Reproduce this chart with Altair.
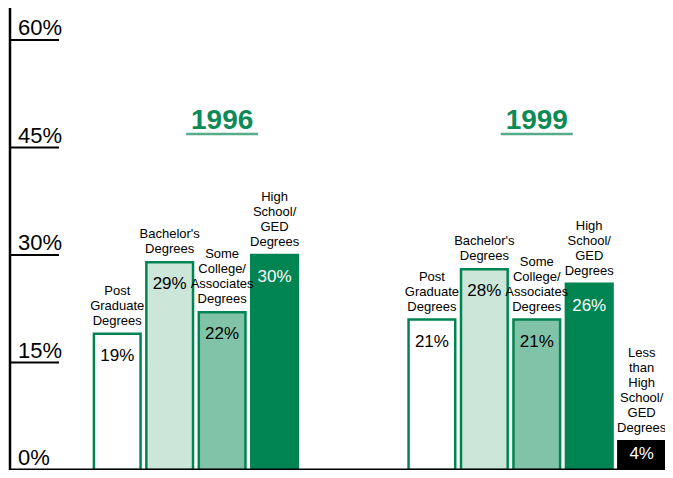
import altair as alt
import pandas as pd

# ---- data ----
years_1996 = "1996"
years_1999 = "1999"
labels_1996 = [
    "Post\nGraduate\nDegrees",
    "Bachelor's\nDegrees",
    "Some\nCollege/\nAssociates\nDegrees",
    "High\nSchool/\nGED\nDegrees",
]
labels_1999 = [
    "Post\nGraduate\nDegrees",
    "Bachelor's\nDegrees",
    "Some\nCollege/\nAssociates\nDegrees",
    "High\nSchool/\nGED\nDegrees",
    "Less\nthan\nHigh\nSchool/\nGED\nDegrees",
]
kinds = ["post", "bach", "some", "hs", "less"]
values_1996 = [19, 29, 22, 30]
values_1999 = [21, 28, 21, 26, 4]
y_ticks = [0, 15, 30, 45, 60]

# ---- styling ----
GREEN = "#008552"
TITLE_GREEN = "#0E8A57"
fills = ["#FFFFFF", "#CCE6DA", "#80C3A8", GREEN, "#000000"]
strokes = [GREEN, GREEN, GREEN, GREEN, "#000000"]
text_colors = ["#000000", "#000000", "#000000", "#FFFFFF", "#FFFFFF"]
FONT = "Liberation Sans, Arial, sans-serif"
LINE_H = 15

rows = []
line_rows = []
for year, labels, values in [(years_1996, labels_1996, values_1996),
                             (years_1999, labels_1999, values_1999)]:
    for i, (lab, v) in enumerate(zip(labels, values)):
        slot = f"{year}-{i}"
        rows.append({"slot": slot, "value": v, "pct": f"{v}%", "kind": kinds[i]})
        lines = lab.split("\n")
        for k, line in enumerate(reversed(lines)):
            line_rows.append({"slot": slot, "value": v, "line": line, "k": k})
df = pd.DataFrame(rows)
lines_df = pd.DataFrame(line_rows)

slots = ([f"{years_1996}-{i}" for i in range(len(values_1996))]
         + ["gap-a", "gap-b"]
         + [f"{years_1999}-{i}" for i in range(len(values_1999))])

W, H = 655, 430
x_scale = alt.Scale(domain=slots, paddingInner=0.11, paddingOuter=0.8, align=1)
y_scale = alt.Scale(domain=[0, 60], nice=False, zero=True)
X = alt.X("slot:N", scale=x_scale, axis=None)
Y = alt.Y("value:Q", scale=y_scale, axis=None)
TEXT_COLOR = alt.Color("kind:N", scale=alt.Scale(domain=kinds, range=text_colors), legend=None)

base = alt.Chart(df)

bars = base.mark_bar(strokeWidth=2.5).encode(
    x=X,
    y=Y,
    fill=alt.Fill("kind:N", scale=alt.Scale(domain=kinds, range=fills), legend=None),
    stroke=alt.Stroke("kind:N", scale=alt.Scale(domain=kinds, range=strokes), legend=None),
)

# category labels: one layer per line (k = 0 is the bottom line)
max_lines = int(lines_df["k"].max()) + 1
cat_layers = []
for K in range(max_lines):
    cat_layers.append(
        alt.Chart(lines_df).transform_filter(f"datum.k == {K}").mark_text(
            baseline="alphabetic", align="center", dy=-9 - LINE_H * K,
            fontSize=13, font=FONT, color="#000000",
        ).encode(x=X, y=Y, text="line:N")
    )

val_text = base.transform_filter("datum.kind != 'less'").mark_text(
    baseline="middle", align="center", dy=22, fontSize=17, font=FONT,
).encode(x=X, y=Y, text="pct:N", color=TEXT_COLOR)

val_text_short = base.transform_filter("datum.kind == 'less'").mark_text(
    baseline="middle", align="center", dy=13, fontSize=17, font=FONT,
).encode(x=X, y=Y, text="pct:N", color=TEXT_COLOR)

tick_df = pd.DataFrame({"t": y_ticks, "lab": [f"{t}%" for t in y_ticks]})
tick_rules = alt.Chart(tick_df).transform_filter("datum.t > 0").mark_rule(
    color="#000000", strokeWidth=2
).encode(
    y=alt.Y("t:Q", scale=y_scale, axis=None),
    x=alt.value(0),
    x2=alt.value(49),
)
tick_labels = alt.Chart(tick_df).mark_text(
    align="left", baseline="alphabetic", dy=-5, fontSize=22, font=FONT, color="#000000"
).encode(
    y=alt.Y("t:Q", scale=y_scale, axis=None),
    x=alt.value(8),
    text="lab:N",
)

axis_df = pd.DataFrame({"a": [0]})
left_axis = alt.Chart(axis_df).mark_rule(color="#000000", strokeWidth=2.5).encode(
    x=alt.value(0), y=alt.value(-32), y2=alt.value(H)
)
bottom_axis = alt.Chart(axis_df).mark_rule(color="#000000", strokeWidth=3).encode(
    x=alt.value(0), x2=alt.value(W), y=alt.value(H)
)

title_df = pd.DataFrame({"slot": [f"{years_1996}-2", f"{years_1999}-2"],
                         "year": [years_1996, years_1999]})
titles = alt.Chart(title_df).mark_text(
    fontSize=28, fontWeight="bold", font=FONT, color=TITLE_GREEN,
    baseline="alphabetic", align="center",
).encode(x=X, y=alt.value(89), text="year:N")
underline = alt.Chart(title_df).mark_tick(
    orient="horizontal", size=72, thickness=2.5, color=TITLE_GREEN
).encode(x=X, y=alt.value(94))

chart = alt.layer(
    bars, *cat_layers, val_text, val_text_short, tick_rules, tick_labels,
    left_axis, bottom_axis, titles, underline,
).properties(
    width=W, height=H,
    padding={"left": 2, "top": 32, "right": 0, "bottom": 0},
    autosize="none",
).configure_view(stroke=None)

chart.save("out.html", embed_options={"renderer": "svg", "actions": False})
